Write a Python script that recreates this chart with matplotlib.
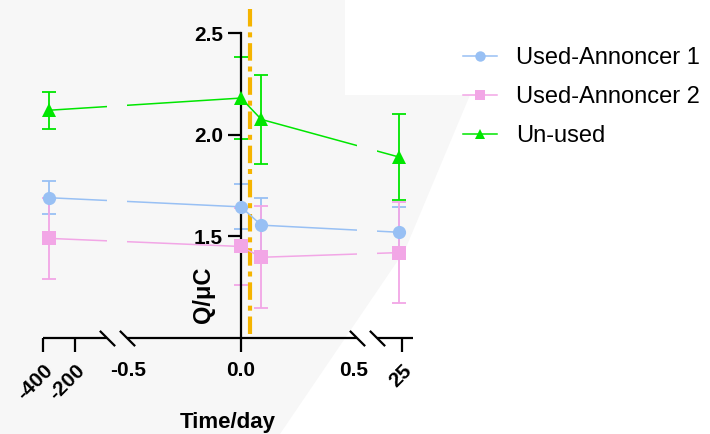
import numpy as np
import matplotlib
matplotlib.use("Agg")
import matplotlib.pyplot as plt
from matplotlib.path import Path
from matplotlib.patches import Polygon
from matplotlib.lines import Line2D

plt.rcParams['font.family'] = ['Liberation Sans', 'DejaVu Sans']

# ---------------- data ----------------
days = [-365, 0, 0.09, 24.7]
series_names = ["Used-Annoncer 1", "Used-Annoncer 2", "Un-used"]
used1_mean = [1.69, 1.645, 1.555, 1.52]
used1_err = [0.08, 0.11, 0.135, 0.125]
used2_mean = [1.49, 1.45, 1.397, 1.42]
used2_err = [0.20, 0.19, 0.25, 0.25]
unused_mean = [2.12, 2.18, 2.075, 1.89]
unused_err = [0.09, 0.20, 0.22, 0.21]
event_day = 0.04

major_ticks = [-400, -200, 0, 25]
major_labels = ["-400", "-200", "0.0", "25"]
minor_ticks = [-0.5, 0.5]
minor_labels = ["-0.5", "0.5"]
y_ticks = [1.5, 2.0, 2.5]
y_labels = ["1.5", "2.0", "2.5"]

# axis segments (data ranges) of the broken x axis
segments = [(-400, -5), (-0.504, 0.513), (22.5, 26.1)]

# ---------------- styling ----------------
colors = ["#98c0f4", "#f2a6e6", "#00e600"]
markers = ["o", "s", "^"]
orange = "#f5b400"
bg = "#f7f7f7"

W, H = 710, 434
fig = plt.figure(figsize=(W / 100, H / 100), dpi=100)
fig.patch.set_facecolor(bg)

# white background region (screenshot backdrop)
poly_px = [(345, 0), (710, 0), (710, 434), (280, 434), (405, 250),
           (470, 95), (345, 95)]
fig.patches.append(Polygon([(x / W, 1 - y / H) for x, y in poly_px],
                           closed=True, transform=fig.transFigure,
                           facecolor="white", edgecolor="none", zorder=-10))

ax_l, ax_r, ax_t, ax_b = 43, 413, 33, 338
ax = fig.add_axes([ax_l / W, 1 - ax_b / H, (ax_r - ax_l) / W, (ax_b - ax_t) / H])
ax.set_facecolor("none")

# piecewise linear broken scale
seg_px = [(43, 107), (127, 357), (377, 413)]
xd = np.array([v for s in segments for v in s], float)
xp = np.array([v for s in seg_px for v in s], float)
s0 = (xp[1] - xp[0]) / (xd[1] - xd[0])
s1 = (xp[-1] - xp[-2]) / (xd[-1] - xd[-2])


def fwd(x):
    x = np.asarray(x, float)
    y = np.interp(x, xd, xp)
    y = np.where(x < xd[0], xp[0] + (x - xd[0]) * s0, y)
    y = np.where(x > xd[-1], xp[-1] + (x - xd[-1]) * s1, y)
    return y


def inv(y):
    y = np.asarray(y, float)
    x = np.interp(y, xp, xd)
    x = np.where(y < xp[0], xd[0] + (y - xp[0]) / s0, x)
    x = np.where(y > xp[-1], xd[-1] + (y - xp[-1]) / s1, x)
    return x


ax.set_xscale("function", functions=(fwd, inv))
ax.set_xlim(segments[0][0], segments[-1][1])
ax.set_ylim(1.0, 2.5)

# clip path: union of segments
verts, codes = [], []
for a, b in segments:
    verts += [(a, -1), (b, -1), (b, 2), (a, 2), (a, -1)]
    codes += [Path.MOVETO, Path.LINETO, Path.LINETO, Path.LINETO, Path.CLOSEPOLY]
clip = Path(verts, codes)

means = [used1_mean, used2_mean, unused_mean]
errs = [used1_err, used2_err, unused_err]
handles = []
for m, e, c, mk, name in zip(means, errs, colors, markers, series_names):
    ln, = ax.plot(days, m, color=c, lw=1.1, zorder=2)
    ln.set_clip_path(clip, ax.get_xaxis_transform())
    ax.errorbar(days, m, yerr=e, fmt="none", ecolor=c, elinewidth=1.3,
                capsize=4.8, capthick=1.3, zorder=2.5, clip_on=False)
    ax.plot(days, m, linestyle="none", marker=mk, ms=9.5, color=c,
            markeredgewidth=0, zorder=3, clip_on=False)
    handles.append(Line2D([], [], color=c, lw=1.1, marker=mk, ms=7.5,
                          markeredgewidth=0))

# orange event line
ax.plot([event_day, event_day], [1.02, 2.64], color=orange, lw=3,
        dashes=(4.2, 1.4, 1.2, 1.4), clip_on=False, zorder=1.5)

# spines
for s in ["top", "right", "bottom"]:
    ax.spines[s].set_visible(False)
ax.spines["left"].set_position(("data", 0))
ax.spines["left"].set_linewidth(1.6)

# broken x axis line
xt = ax.get_xaxis_transform()
for a, b in segments:
    ax.plot([a, b], [0, 0], color="black", lw=1.6, transform=xt,
            clip_on=False, solid_capstyle="butt", zorder=4)
brk = [segments[0][1], segments[1][0], segments[1][1], segments[2][0]]
ax.plot(brk, [0] * len(brk), linestyle="none", marker=[(-1, 1), (1, -1)],
        ms=11, mew=1.6, color="black", transform=xt, clip_on=False, zorder=4)

# ticks
ax.set_xticks(major_ticks, major_labels)
ax.set_xticks(minor_ticks, minor_labels, minor=True)
ax.tick_params(axis="x", which="major", length=10, width=1.6, pad=6.5,
               labelsize=15)
ax.tick_params(axis="x", which="minor", length=0, pad=16.5, labelsize=15)
for lab in ax.get_xticklabels() + ax.get_xticklabels(minor=True):
    lab.set_fontweight("bold")
for lab in ax.get_xticklabels():
    if lab.get_text() != "0.0":
        lab.set_rotation(45)
        lab.set_ha("right")
        lab.set_va("top")
        lab.set_rotation_mode("anchor")

ax.set_yticks(y_ticks, y_labels)
ax.tick_params(axis="y", length=9.5, width=1.6, pad=3.5, labelsize=15)
for lab in ax.get_yticklabels():
    lab.set_fontweight("bold")

ax.set_xlabel("Time/day", fontsize=16, fontweight="bold")
ax.xaxis.set_label_coords(0.5, -0.278)
ax.xaxis.label.set_va("center")
ax.set_ylabel("Q/μC", fontsize=17, fontweight="bold")
ax.yaxis.set_label_coords((204 - ax_l) / (ax_r - ax_l), (ax_b - 295) / (ax_b - ax_t))
ax.yaxis.label.set_va("center")

fig.legend(handles, series_names, loc="upper left",
           bbox_to_anchor=(463 / W, 1 - 47 / H), frameon=False, fontsize=17,
           handlelength=1.45, handletextpad=0.8, labelspacing=0.72,
           borderpad=0, borderaxespad=0)

fig.savefig("out.png", dpi=100, facecolor=fig.get_facecolor())
